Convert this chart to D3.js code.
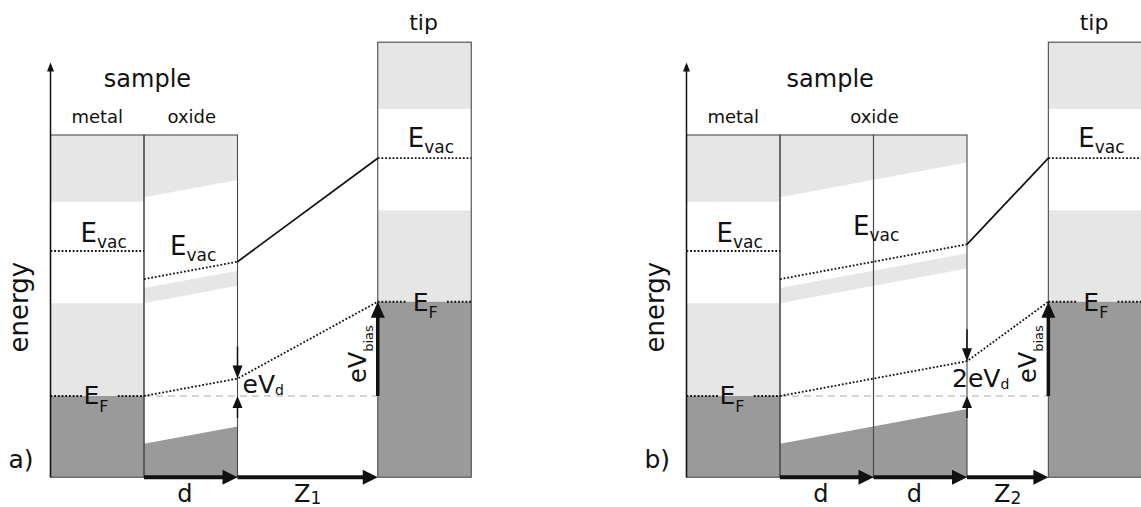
<!DOCTYPE html>
<html>
<head>
<meta charset="utf-8">
<script src="https://cdn.jsdelivr.net/npm/d3@7"></script>
<style>
  body { margin: 0; background: #fff; }
  text { font-family: 'DejaVu Sans', sans-serif; fill: #111; }
</style>
</head>
<body>
<div id="chart"></div>
<script>
// energies in eV measured from the sample Fermi level,
// lengths in units of one oxide layer thickness d
let metalLight = [[6.7, 9.0], [0, 3.2]];
let metalFilled = [-2.8, 0];
let metalVac = 5.0;
let oxideLight = [[6.85, 9.0], [3.2, 3.72]];   // at the metal/oxide interface
let oxideFilledTop = -1.65;
let oxideVac = 4.03;
let tipLight = [[9.9, 12.2], [3.25, 6.4]];
let tipVac = 8.2;
let eVbias = 3.25;
let eVd = 0.6;                // drop across one layer
let bottomE = -2.8, sampleTop = 9.0, tipTop = 12.2, axisTop = 11.5;

let layers = [1, 2];
let gaps = [1.5, 0.87];
let panelNames = ['a)', 'b)'];
let gapNames = ['1', '2'];
let dropNames = ['eV', '2eV'];

let dim = { 'width': 1141, 'height': 507 };
let svg = d3.select('#chart').append('svg')
    .attr('width', dim.width)
    .attr('height', dim.height);

let y = d3.scaleLinear().domain([0, 5]).range([396, 251]);

let light = '#e6e6e6', dark = '#9a9a9a', edge = '#4a4a4a', ink = '#111';
let origins = [144, 780];
// label nudges per panel (pixels)
let oxVacPos = [[26, 255], [73, 235]];
let dropPos = [[5, -3], [-15, -9]];

function subText(g, x0, y0, main, sub, size, subSize, dy, anchor) {
    let t = g.append('text').attr('x', x0).attr('y', y0)
        .attr('font-size', size)
        .attr('text-anchor', anchor || 'start');
    t.append('tspan').text(main);
    if (sub) t.append('tspan').attr('font-size', subSize).attr('dy', dy).text(sub);
    return t;
}

function drawPanel(i) {
    let g = svg.append('g');
    let n = layers[i], gap = gaps[i];
    let x = d3.scaleLinear().domain([0, 1]).range([origins[i], origins[i] + 93.5]);
    let tL = n + gap, tR = n + gap + 1;
    let oxE = (e, u) => e + eVd * u;
    let line = d3.line().x(p => x(p[0])).y(p => y(p[1]));

    let poly = pts => g.append('path').attr('d', line(pts) + 'Z');
    let band = (u0, u1, lo, hi) => g.append('rect')
        .attr('x', x(u0)).attr('width', x(u1) - x(u0))
        .attr('y', y(hi)).attr('height', y(lo) - y(hi));
    let stroke = (pts, kind) => {
        let p = g.append('path').attr('d', line(pts)).attr('fill', 'none');
        if (kind == 'dot') p.attr('stroke', ink).attr('stroke-width', 1.8).attr('stroke-dasharray', '1.8,1.9');
        else if (kind == 'dash') p.attr('stroke', '#aaa').attr('stroke-width', 1.2).attr('stroke-dasharray', '7,5');
        else p.attr('stroke', ink).attr('stroke-width', 1.7);
        return p;
    };
    // arrow head with its tip at (px,py), pointing in dir ('up','down','right')
    let head = (px, py, dir, len, hw) => {
        let pts;
        if (dir == 'up') pts = [[px, py], [px - hw, py + len], [px + hw, py + len]];
        else if (dir == 'down') pts = [[px, py], [px - hw, py - len], [px + hw, py - len]];
        else pts = [[px, py], [px - len, py - hw], [px - len, py + hw]];
        g.append('path').attr('d', d3.line()(pts) + 'Z').attr('fill', ink);
    };

    // metal
    metalLight.forEach(b => band(-1, 0, b[0], b[1]).attr('fill', light));
    band(-1, 0, metalFilled[0], metalFilled[1]).attr('fill', dark);

    // oxide, bent by the field
    oxideLight.forEach(b => poly([[0, b[0]], [n, oxE(b[0], n)],
        [n, Math.min(oxE(b[1], n), sampleTop)], [0, Math.min(b[1], sampleTop)]]).attr('fill', light));
    poly([[0, bottomE], [n, bottomE], [n, oxE(oxideFilledTop, n)], [0, oxideFilledTop]]).attr('fill', dark);

    // tip
    tipLight.forEach(b => band(tL, tR, b[0], b[1]).attr('fill', light));
    band(tL, tR, bottomE, eVbias).attr('fill', dark);

    // outlines
    let boxes = [[-1, 0, sampleTop]];
    for (let k = 0; k < n; k++) boxes.push([k, k + 1, sampleTop]);
    boxes.push([tL, tR, tipTop]);
    boxes.forEach(b => band(b[0], b[1], bottomE, b[2])
        .attr('fill', 'none').attr('stroke', edge).attr('stroke-width', 1.1));

    // levels
    stroke([[0, 0], [tL, 0]], 'dash');
    stroke([[-1, metalVac], [0, metalVac]], 'dot');
    stroke([[0, oxideVac], [n, oxE(oxideVac, n)]], 'dot');
    stroke([[tL, tipVac], [tR, tipVac]], 'dot');
    stroke([[n, oxE(oxideVac, n)], [tL, tipVac]], 'solid');
    stroke([[-1, 0], [-0.66, 0]], 'dot');
    stroke([[-0.28, 0], [0, 0]], 'dot');
    stroke([[0, 0], [n, eVd * n], [tL, eVbias]], 'dot');
    stroke([[tL, eVbias], [tL + 0.31, eVbias]], 'dot');
    stroke([[tL + 0.74, eVbias], [tR, eVbias]], 'dot');

    // energy axis
    g.append('line').attr('x1', x(-1)).attr('x2', x(-1))
        .attr('y1', y(bottomE)).attr('y2', y(axisTop) + 6)
        .attr('stroke', ink).attr('stroke-width', 1.5);
    head(x(-1), y(axisTop), 'up', 9, 3.5);

    // bias arrow
    g.append('line').attr('x1', x(tL)).attr('x2', x(tL))
        .attr('y1', y(0)).attr('y2', y(eVbias) + 12)
        .attr('stroke', ink).attr('stroke-width', 3.5);
    head(x(tL), y(eVbias), 'up', 16, 7);

    // eV_d arrows
    let vd = y(eVd * n);
    g.append('line').attr('x1', x(n)).attr('x2', x(n)).attr('y1', vd - 32).attr('y2', vd - 8)
        .attr('stroke', ink).attr('stroke-width', 1.5);
    head(x(n), vd, 'down', 13, 5);
    g.append('line').attr('x1', x(n)).attr('x2', x(n)).attr('y1', y(0) + 22).attr('y2', y(0) + 8)
        .attr('stroke', ink).attr('stroke-width', 1.5);
    head(x(n), y(0), 'up', 12, 5);

    // thickness arrows
    let yb = y(bottomE);
    let spans = [];
    for (let k = 0; k < n; k++) spans.push([k, k + 1]);
    spans.push([n, tL]);
    spans.forEach(s => {
        g.append('line').attr('x1', x(s[0])).attr('x2', x(s[1]) - 10)
            .attr('y1', yb).attr('y2', yb)
            .attr('stroke', ink).attr('stroke-width', 4);
        head(x(s[1]), yb, 'right', 15, 7.5);
    });

    // labels
    g.append('text').attr('x', (x(-1) + x(n)) / 2 + 3.5).attr('y', 87)
        .attr('font-size', 24).attr('text-anchor', 'middle').text('sample');
    g.append('text').attr('x', (x(-1) + x(0)) / 2).attr('y', 123)
        .attr('font-size', 18).attr('text-anchor', 'middle').text('metal');
    g.append('text').attr('x', (x(0) + x(n)) / 2 + 1).attr('y', 123)
        .attr('font-size', 18).attr('text-anchor', 'middle').text('oxide');
    g.append('text').attr('x', (x(tL) + x(tR)) / 2 - 1).attr('y', 30)
        .attr('font-size', 22).attr('text-anchor', 'middle').text('tip');
    g.append('text').attr('x', 0).attr('y', 0)
        .attr('transform', `translate(${x(-1) - 23},${y(bottomE) - 170}) rotate(-90)`)
        .attr('font-size', 26).attr('text-anchor', 'middle').text('energy');
    g.append('text').attr('x', x(-1) - 42).attr('y', 468)
        .attr('font-size', 25).text(panelNames[i]);

    subText(g, x(-1) + 30, y(metalVac) - 9, 'E', 'vac', 26, 17, 6);
    subText(g, x(0) + oxVacPos[i][0], oxVacPos[i][1], 'E', 'vac', 26, 17, 6);
    subText(g, x(tL) + 30, y(tipVac) - 11, 'E', 'vac', 26, 17, 6);
    subText(g, x(-1) + 33, y(0) + 8, 'E', 'F', 25, 16, 8);
    subText(g, x(tL) + 35, y(eVbias) + 9, 'E', 'F', 25, 16, 7);

    subText(g, x(n) + dropPos[i][0], y(0) + dropPos[i][1], dropNames[i], 'd', 25, 14, 2);

    let bias = g.append('text').attr('x', 0).attr('y', 0)
        .attr('transform', `translate(${x(tL) - 12},${y(0) - 13}) rotate(-90)`)
        .attr('font-size', 24);
    bias.append('tspan').text('eV');
    bias.append('tspan').attr('font-size', 13).attr('dy', 7).text('bias');

    for (let k = 0; k < n; k++) {
        g.append('text').attr('x', (x(k) + x(k + 1)) / 2 - 6).attr('y', 502)
            .attr('font-size', 24).attr('text-anchor', 'middle').text('d');
    }
    subText(g, (x(n) + x(tL)) / 2, 502, 'Z', gapNames[i], 24, 17, 2, 'middle');
}

layers.forEach((d, i) => drawPanel(i));
</script>
</body>
</html>
